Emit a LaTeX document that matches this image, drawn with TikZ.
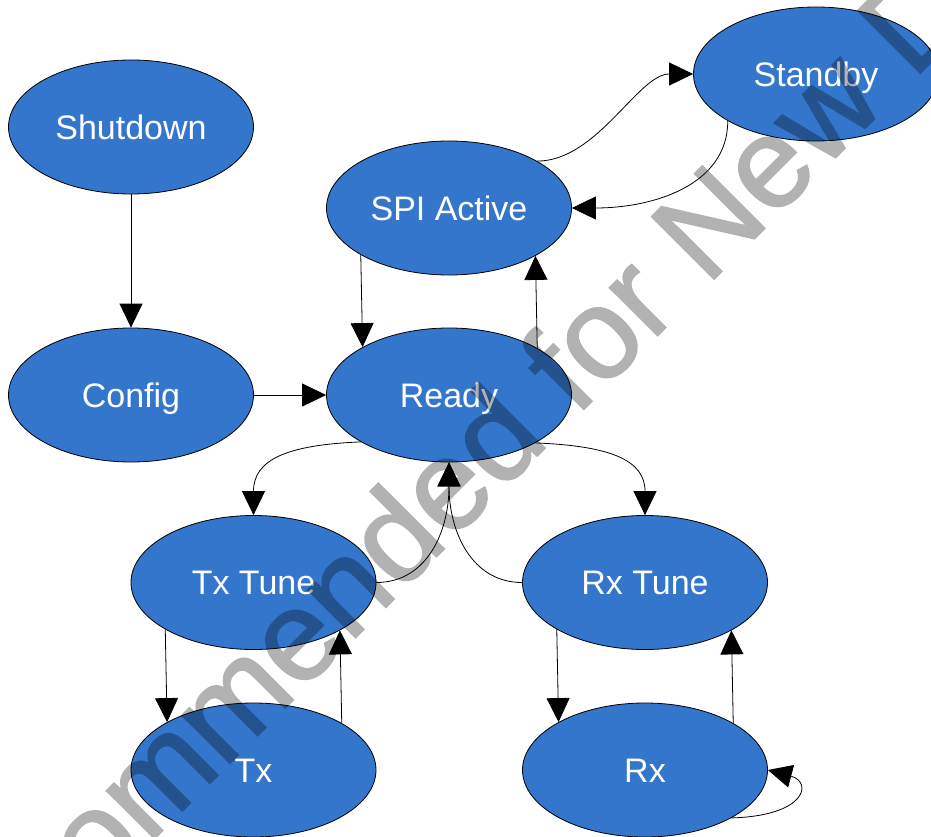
\documentclass[tikz,border=0pt]{standalone}
\usepackage{fontspec}
\setmainfont{Liberation Sans}
\newfontfamily\wmfont[FakeBold=1.5]{Liberation Sans}
\usetikzlibrary{shapes.geometric,arrows.meta}
\definecolor{stfill}{RGB}{52,118,204}
\begin{document}
\begin{tikzpicture}[x=1pt,y=-1pt,
  state/.style={ellipse,draw=black,line width=0.8pt,fill=stfill,text=white,
    minimum width=245pt,minimum height=134pt,inner sep=0pt,
    text height=24.4pt,text depth=0pt,font=\fontsize{34}{34}\selectfont},
  arr/.style={-{Triangle[length=24pt,width=23pt]},line width=0.8pt,draw=black},
  watermark/.style={rotate=45,anchor=base west,text=black,
    inner sep=0pt,font=\wmfont\fontsize{128}{128}\selectfont}
  ]
\useasboundingbox (0,0) rectangle (931,837);
\node[state] (shut) at (131,127) {Shutdown};
\node[state] (config) at (131,395) {Config};
\node[state] (spi) at (449,208) {SPI Active};
\node[state] (ready) at (449,395) {Ready};
\node[state] (standby) at (816,74) {Standby};
\node[state] (txt) at (253.5,582.5) {Tx Tune};
\node[state] (tx) at (253.5,770) {Tx};
\node[state] (rxt) at (645,582.5) {Rx Tune};
\node[state] (rx) at (645,770) {Rx};

\draw[arr] (shut) -- (config);
\draw[arr] (config) -- (ready);
\draw[arr] (spi.208.6) -- (ready.151.4);
\draw[arr] (ready.28.6) -- (spi.331.4);
\draw[arr] (txt.208.6) -- (tx.151.4);
\draw[arr] (tx.28.6) -- (txt.331.4);
\draw[arr] (rxt.208.6) -- (rx.151.4);
\draw[arr] (rx.28.6) -- (rxt.331.4);

\draw[arr] (spi.28.2) .. controls +(60,0) and +(-55,0) .. (standby.west);
\draw[arr] (standby.208.9) .. controls +(0,65) and +(80,0) .. (spi.east);
\draw[arr] (ready.208.3) .. controls +(-75,3) and +(0,-55) .. (txt.north);
\draw[arr] (ready.331.7) .. controls +(75,3) and +(0,-55) .. (rxt.north);
\draw[arr] (txt.east) .. controls +(50,0) and +(0,70) .. (ready.south);
\draw[arr] (rxt.west) .. controls +(-50,0) and +(0,70) .. (ready.south);
\draw[arr] (rx.331.1) .. controls +(75,-2) and +(45,12) .. (rx.east);

\begin{scope}[transparency group,opacity=0.3]
\node[watermark] (wm) at (-229,1222) {Not Recommended for New Designs};
\end{scope}
\end{tikzpicture}
\end{document}
